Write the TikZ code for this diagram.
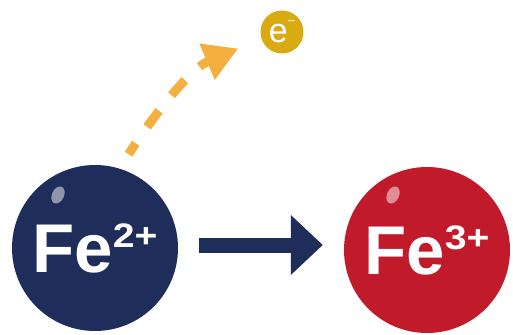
\documentclass[tikz,border=0pt]{standalone}
\usepackage{fontspec}
\setmainfont{Liberation Sans}
\usetikzlibrary{arrows.meta}
\definecolor{ionblue}{HTML}{1E2D59}
\definecolor{ionred}{HTML}{C11A2B}
\definecolor{elgold}{HTML}{D9AA12}
\definecolor{elorange}{HTML}{F4B03E}
\newcommand{\chg}[1]{\raisebox{25pt}{\fontsize{34}{34}\selectfont\scalebox{1.15}[1]{#1}}}
\begin{document}
\begin{tikzpicture}[x=1pt,y=1pt,
  ion/.style={circle,minimum size=166pt,inner sep=0pt,text=white,
    font=\bfseries\fontsize{69}{69}\selectfont},
  react/.style={-{Triangle[length=32pt,width=58pt]},line width=15pt,ionblue},
  emit/.style={-{Triangle[length=34pt,width=37pt]},line width=9pt,elorange,
    dash pattern=on 20pt off 20pt,dash phase=7pt,shorten <=17pt,shorten >=25pt}]
\useasboundingbox (0,0) rectangle (513,-334);
% ions
\node[ion,fill=ionblue] (fe2) at (95,-248) {Fe\chg{2+}};
\node[ion,fill=ionred] (fe3) at (427,-250) {Fe\chg{3+}};
\fill[ionblue!50!white] ([shift={(-37,53)}]fe2.center) ellipse [x radius=6,y radius=9,rotate=-25];
\fill[ionred!50!white] ([shift={(-34,55)}]fe3.center) ellipse [x radius=6,y radius=9,rotate=-25];
% electron
\node[circle,fill=elgold,minimum size=43pt,inner sep=0pt,text=white,
  font=\fontsize{34}{34}\selectfont] (el) at (282,-32) {e\raisebox{17pt}{\fontsize{13}{13}\selectfont −}};
% arrows
\draw[react] ([shift={(21,3)}]fe2.east) -- ([shift={(-21,5)}]fe3.west);
\draw[emit] (fe2.73) to[out=57,in=203] (el.198);
\end{tikzpicture}
\end{document}
